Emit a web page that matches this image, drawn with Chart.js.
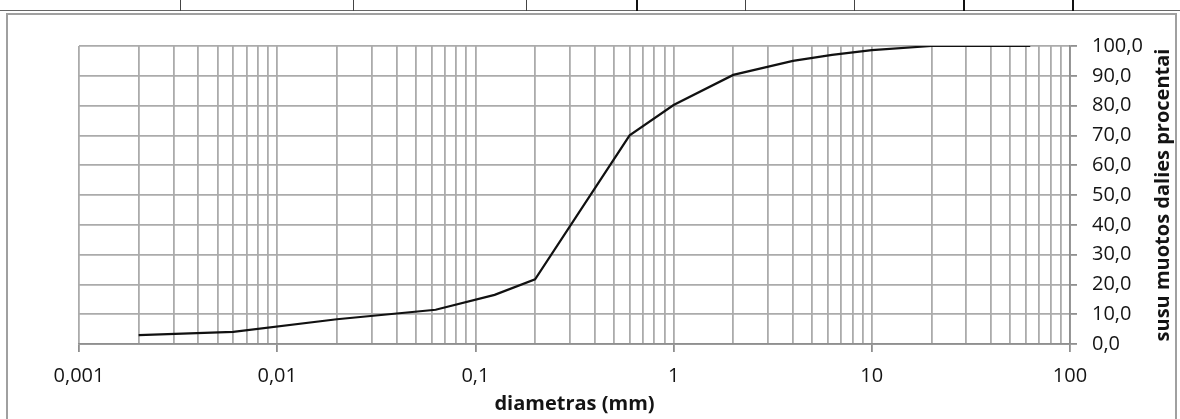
<!DOCTYPE html>
<html>
<head>
<meta charset="utf-8">
<script src="https://cdn.jsdelivr.net/npm/chart.js@4.4.1/dist/chart.umd.min.js"></script>
<style>
  html, body { margin: 0; padding: 0; background: #fff; }
  body { width: 1180px; height: 419px; position: relative; overflow: hidden; }
  #strip { position: absolute; left: 0; top: 0; width: 1180px; height: 10px; border-bottom: 1px solid #666; }
  .sep { position: absolute; top: 0; height: 11px; width: 1px; background: #444; }
  .sep.b { width: 2px; background: #111; }
  #frame { position: absolute; left: 6px; top: 13px; width: 1171px; height: 420px; border: 2px solid #a0a0a0; box-sizing: border-box; }
  #chart { position: absolute; left: 0; top: 0; }
</style>
</head>
<body>
<div id="strip">
  <div class="sep" style="left:180px"></div>
  <div class="sep" style="left:353px"></div>
  <div class="sep" style="left:526px"></div>
  <div class="sep b" style="left:636px"></div>
  <div class="sep" style="left:745px"></div>
  <div class="sep" style="left:854px"></div>
  <div class="sep b" style="left:963px"></div>
  <div class="sep b" style="left:1072px"></div>
</div>
<div id="frame"></div>
<canvas id="chart" width="1180" height="419"></canvas>
<script>
// grading curve: particle diameter (mm) vs cumulative passing (%)
const diameters = [0.002, 0.006, 0.02, 0.063, 0.125, 0.2, 0.6, 1, 2, 4, 6.3, 10, 20, 63];
const passing = [3.0, 4.1, 8.3, 11.5, 16.5, 21.7, 70.0, 80.2, 90.3, 95.0, 97.0, 98.6, 100.0, 100.0];

const xDecades = [0.001, 0.01, 0.1, 1, 10, 100];
const xTickLabels = ['0,001', '0,01', '0,1', '1', '10', '100'];
const yTickValues = [0, 10, 20, 30, 40, 50, 60, 70, 80, 90, 100];
const yTickLabels = ['0,0', '10,0', '20,0', '30,0', '40,0', '50,0', '60,0', '70,0', '80,0', '90,0', '100,0'];

const xTitle = 'diametras (mm)';
const yTitle = 'susu muotos dalies procentai';

const FONT = '"Open Sans", "DejaVu Sans", sans-serif';
const TEXT = '#141414';
const GRID = '#ababab';
const AXIS = '#8f8f8f';

const yTitlePlugin = {
  id: 'yTitle',
  afterDraw(chart) {
    const { ctx, chartArea } = chart;
    const yScale = chart.scales.y;
    ctx.save();
    ctx.translate(yScale.right - 17, (chartArea.top + chartArea.bottom) / 2);
    ctx.rotate(-Math.PI / 2);
    ctx.font = 'bold 20px ' + FONT;
    ctx.fillStyle = TEXT;
    ctx.textAlign = 'center';
    ctx.textBaseline = 'middle';
    ctx.fillText(yTitle, 0, 0);
    ctx.restore();
  }
};

const ctx = document.getElementById('chart');

new Chart(ctx, {
  type: 'line',
  data: {
    datasets: [
      {
        data: diameters.map((d, i) => ({ x: d, y: passing[i] })),
        borderColor: '#111',
        borderWidth: 2.2,
        pointRadius: 0,
        tension: 0,
        fill: false
      }
    ]
  },
  options: {
    responsive: false,
    animation: false,
    devicePixelRatio: 1,
    layout: { padding: { left: 79, top: 46, right: 0, bottom: 0 } },
    plugins: {
      legend: { display: false },
      tooltip: { enabled: false }
    },
    scales: {
      x: {
        type: 'logarithmic',
        min: 0.001,
        max: 100,
        afterBuildTicks: (scale) => {
          const ticks = [];
          xDecades.forEach((d, i) => {
            ticks.push({ value: d, major: true });
            if (i < xDecades.length - 1) {
              for (let m = 2; m <= 9; m++) ticks.push({ value: +(d * m).toPrecision(3), major: false });
            }
          });
          scale.ticks = ticks;
        },
        afterFit: (scale) => { scale.height = 75; },
        ticks: {
          autoSkip: false,
          maxRotation: 0,
          padding: 12,
          color: TEXT,
          font: { family: FONT, size: 20 },
          callback: (value) => {
            const i = xDecades.indexOf(value);
            return i >= 0 ? xTickLabels[i] : '';
          }
        },
        grid: {
          color: GRID,
          lineWidth: 1.8,
          tickLength: 8,
          tickColor: (c) => (c.tick && c.tick.major ? AXIS : 'rgba(0,0,0,0)')
        },
        border: { color: AXIS, width: 1.8 },
        title: {
          display: true,
          text: xTitle,
          color: TEXT,
          font: { family: FONT, size: 20, weight: 'bold' },
          padding: { top: 0, bottom: 3 }
        }
      },
      y: {
        position: 'right',
        min: 0,
        max: 100,
        afterFit: (scale) => { scale.width = 110; },
        ticks: {
          stepSize: 10,
          padding: 15,
          color: TEXT,
          font: { family: FONT, size: 20 },
          callback: (value) => {
            const i = yTickValues.indexOf(value);
            return i >= 0 ? yTickLabels[i] : '';
          }
        },
        grid: { color: GRID, lineWidth: 1.8, tickLength: 7, tickColor: AXIS },
        border: { color: AXIS, width: 1.8 }
      }
    }
  },
  plugins: [yTitlePlugin]
});
</script>
</body>
</html>
